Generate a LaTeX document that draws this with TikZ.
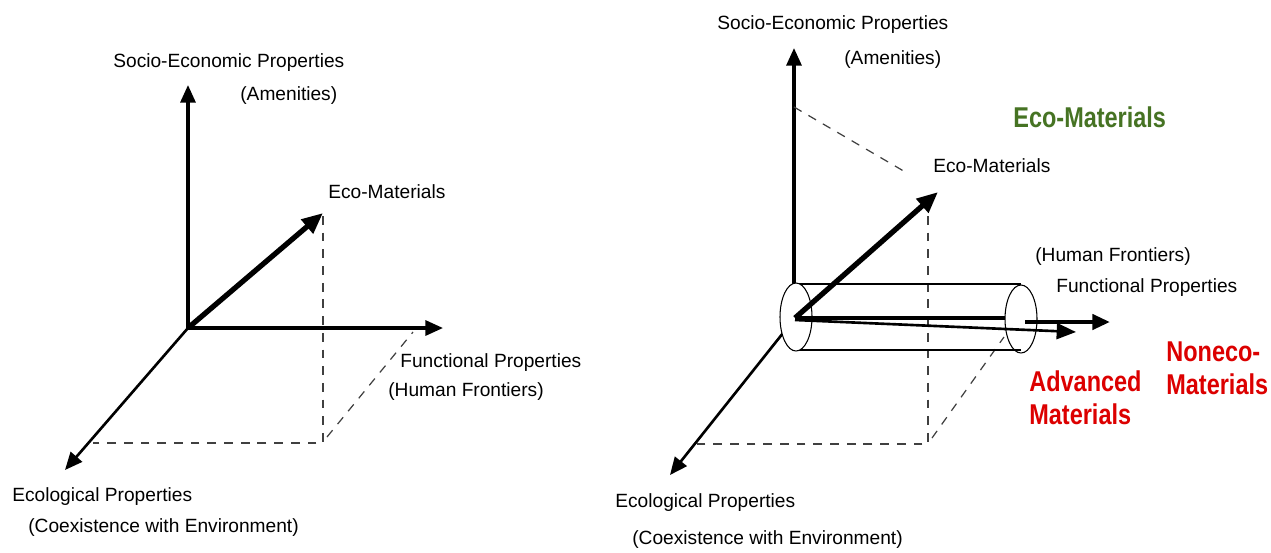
\documentclass[tikz,border=0pt]{standalone}
\usepackage{fontspec}
\setmainfont{Liberation Sans}
\newfontfamily\narrowfont[FakeStretch=0.82]{Liberation Sans}
\usetikzlibrary{arrows.meta}
\definecolor{ecogreen}{RGB}{70,115,35}
\definecolor{nonecored}{RGB}{220,0,0}
\tikzset{
	axis/.style={line width=1.8pt, -{Triangle[length=10pt,width=8.5pt]}},
	ecoaxis/.style={line width=3pt, -{Triangle[length=12pt,width=10pt]}},
	guide/.style={line width=0.7pt, black!75, dash pattern=on 5pt off 4.5pt},
	lbl/.style={anchor=west, inner sep=0pt},
	biglbl/.style={anchor=west, inner sep=0pt, align=left, font=\narrowfont\bfseries\fontsize{16.3}{18.7}\selectfont}
}
\begin{document}
\begin{tikzpicture}[x=0.02cm, y=-0.02cm, font=\fontsize{10.9}{13}\selectfont]
	\useasboundingbox (0,0) rectangle (1271,552);
	% left picture
	\coordinate (oL) at (188,328);
	\coordinate (socioTipL) at (188,85);
	\coordinate (funcTipL) at (443,328);
	\coordinate (ecolTipL) at (65,470);
	\coordinate (ecoTipL) at (323,213);
	\coordinate (footL) at (323,443);
	\coordinate (ecolFootL) at (93,443);
	\coordinate (funcFootL) at (413,332);
	\draw[guide] (323,216) -- (footL) -- (ecolFootL);
	\draw[guide] (327,437) -- (funcFootL);
	\draw[axis] (oL) -- (socioTipL);
	\draw[axis] (oL) -- (funcTipL);
	\draw[axis, line width=1.5pt] (oL) -- (ecolTipL);
	\draw[ecoaxis] (oL) -- (ecoTipL);
	\node[lbl] (socioL) at (113,63) {Socio-Economic Properties};
	\node[lbl] (amenL) at (240,96) {(Amenities)};
	\node[lbl] (ecoL) at (328,192) {Eco-Materials};
	\node[lbl] (funcL) at (400,363) {Functional Properties};
	\node[lbl] (humanL) at (388,392) {(Human Frontiers)};
	\node[lbl] (ecolL) at (12,497) {Ecological Properties};
	\node[lbl] (coexL) at (28,528) {(Coexistence with Environment)};
	% right picture
	\coordinate (oR) at (795,318);
	\coordinate (socioTipR) at (794,48);
	\coordinate (ecolTipR) at (670,475);
	\coordinate (ecoTipR) at (938,192);
	\coordinate (footR) at (928,444);
	\draw[axis] (794,318) -- (socioTipR);
	\draw[axis, line width=1.5pt] (oR) -- (ecolTipR);
	\draw[guide] (794,107) -- (907,173);
	\draw[guide] (928,216) -- (footR) -- (695,444);
	\draw[guide] (932,438) -- (1004,337);
	% cylinder
	\draw[line width=0.6pt] (796,284) -- (1021,284);
	\draw[line width=0.6pt] (796,350) -- (1021,350);
	\draw[line width=0.6pt, fill=white] (796,317) ellipse [x radius=16, y radius=34];
	\draw[line width=0.6pt] (1021,319) ellipse [x radius=16, y radius=34];
	\draw[ecoaxis] (oR) -- (ecoTipR);
	\draw[line width=2.4pt] (oR) -- (1005,318);
	\draw[axis, line width=2.4pt] (1025,322) -- (1110,322);
	\draw[line width=1.5pt, -{Triangle[length=11pt,width=9pt]}] (795,320) -- (1076,332);
	\node[lbl] (socioR) at (717,25) {Socio-Economic Properties};
	\node[lbl] (amenR) at (844,60) {(Amenities)};
	\node[lbl] (ecoR) at (933,166) {Eco-Materials};
	\node[lbl] (humanR) at (1035,257) {(Human Frontiers)};
	\node[lbl] (funcR) at (1056,288) {Functional Properties};
	\node[lbl] (ecolR) at (615,503) {Ecological Properties};
	\node[lbl] (coexR) at (632,540) {(Coexistence with Environment)};
	\node[biglbl, text=ecogreen] (ecoBig) at (1013,117) {Eco-Materials};
	\node[biglbl, text=nonecored] (advBig) at (1029,398) {Advanced\\Materials};
	\node[biglbl, text=nonecored] (nonecoBig) at (1166,368) {Noneco-\\Materials};
\end{tikzpicture}
\end{document}
